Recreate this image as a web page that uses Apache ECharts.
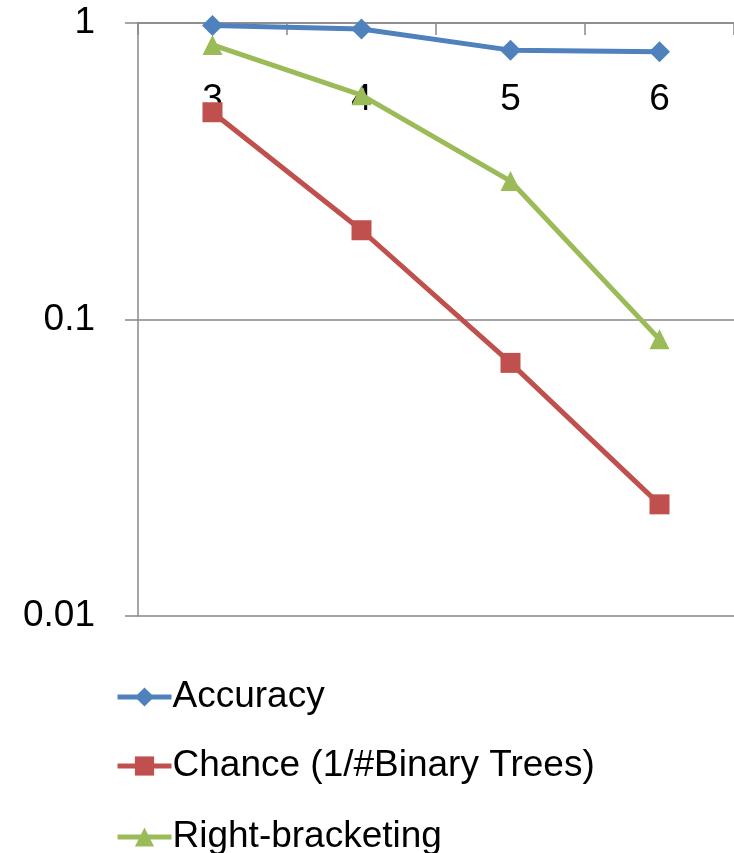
<!DOCTYPE html>
<html>
<head>
<meta charset="utf-8">
<script src="https://cdn.jsdelivr.net/npm/echarts@6/dist/echarts.min.js"></script>
<style>html,body{margin:0;padding:0;background:#fff;}#c{width:734px;height:853px;}</style>
</head>
<body>
<div id="c"></div>
<script>
const categories = ['3', '4', '5', '6'];
const accuracy = [0.98, 0.955, 0.81, 0.80];
const chance = [0.5, 0.2, 0.0714, 0.0238];
const rightBracketing = [0.843, 0.571, 0.293, 0.0857];
const seriesNames = ['Accuracy', 'Chance (1/#Binary Trees)', 'Right-bracketing'];

const FONT = '"Liberation Sans", Arial, sans-serif';
const chart = echarts.init(document.getElementById('c'), null, {renderer: 'canvas'});
const mk = (name, data, color, symbol, size) => ({
  name, type: 'line', data, symbol, symbolSize: size,
  lineStyle: {color, width: 5}, itemStyle: {color},
  animation: false
});
const legendTops = [672, 741, 812];
const legends = seriesNames.map((n, i) => ({
  orient: 'vertical', left: 110, top: legendTops[i],
  itemWidth: 54, itemHeight: 24, itemGap: 0,
  lineStyle: {width: 5},
  textStyle: {fontFamily: FONT, fontSize: 37, color: '#000', lineHeight: 40, padding: [0, 0, 0, -4]},
  data: [n]
}));
chart.setOption({
  backgroundColor: '#fff',
  animation: false,
  textStyle: {fontFamily: FONT},
  grid: {left: 138, top: 23, width: 598, height: 593, containLabel: false},
  legend: legends,
  xAxis: {
    type: 'category', position: 'top', data: categories, boundaryGap: true,
    axisLine: {show: true, lineStyle: {color: '#888', width: 1.5}},
    axisTick: {show: true, inside: true, length: 12, lineStyle: {color: '#888', width: 1.5}},
    axisLabel: {inside: true, margin: 58, fontSize: 37, color: '#000', fontFamily: FONT},
    splitLine: {show: false}
  },
  yAxis: {
    type: 'log', logBase: 10, min: 0.01, max: 1,
    axisLine: {show: true, lineStyle: {color: '#888', width: 1.5}},
    axisTick: {show: true, length: 13, lineStyle: {color: '#888', width: 1.5}},
    axisLabel: {margin: 43, fontSize: 37, color: '#000', fontFamily: FONT,
      formatter: v => (v >= 1 ? '1' : String(+v.toPrecision(2)))},
    splitLine: {show: true, lineStyle: {color: '#888', width: 1.5}},
    minorTick: {show: false}
  },
  series: [
    mk(seriesNames[0], accuracy, '#4F81BD', 'diamond', 21),
    mk(seriesNames[1], chance, '#C0504D', 'rect', 20),
    mk(seriesNames[2], rightBracketing, '#9BBB59', 'triangle', 20)
  ]
});
</script>
</body>
</html>
